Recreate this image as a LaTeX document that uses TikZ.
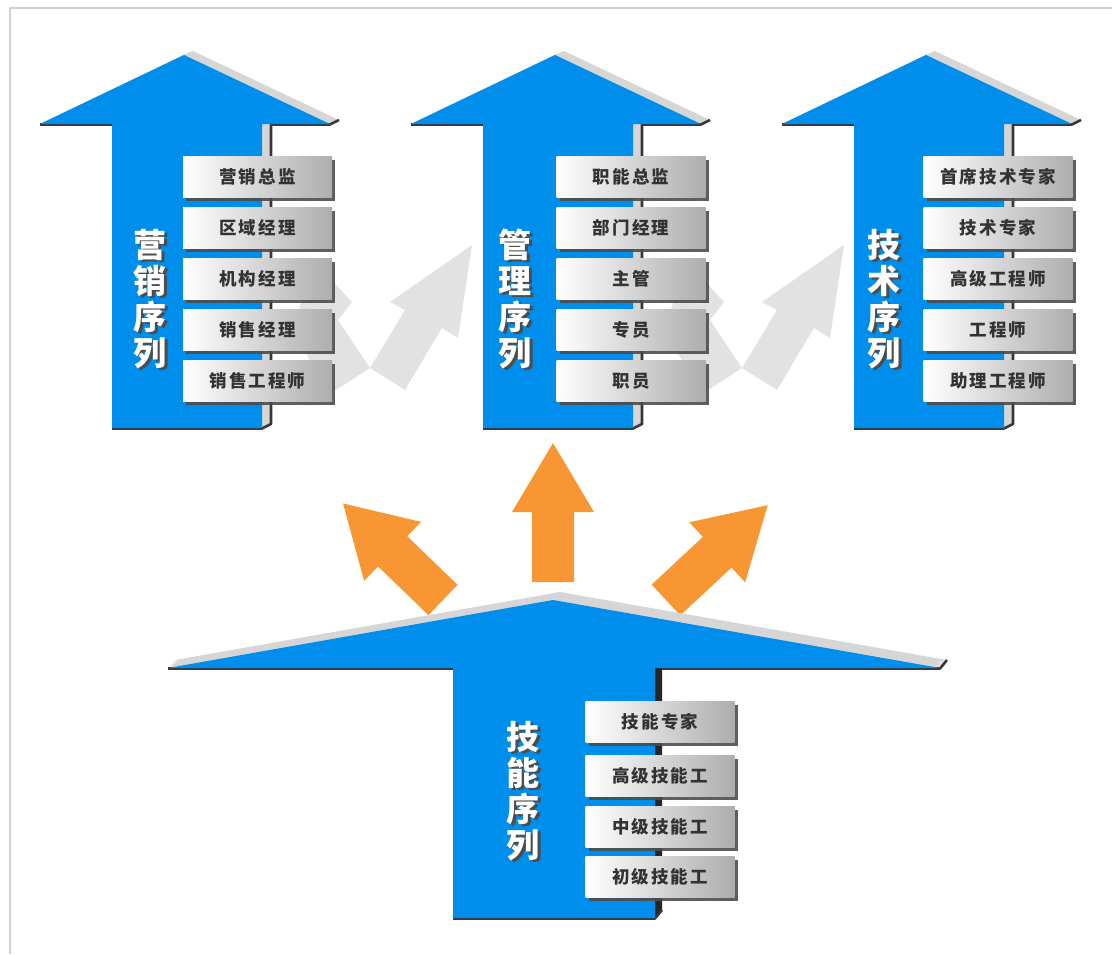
\documentclass[tikz,border=0pt]{standalone}
\usepackage{fontspec}
\newfontfamily\cjk{Noto Sans CJK SC}
\newfontfamily\cjkbox[LetterSpace=12]{Noto Sans CJK SC}
\usetikzlibrary{shadows}
\definecolor{arrowblue}{RGB}{0,142,236}
\definecolor{orangeA}{RGB}{247,150,50}
\definecolor{greyV}{RGB}{226,226,226}
\definecolor{extr}{RGB}{214,214,214}
\definecolor{edgedark}{RGB}{55,55,55}
\newcommand\shch[1]{\leavevmode\rlap{\kern2.5pt\raisebox{-2.5pt}{\textcolor{black!70}{#1}}}#1}
\tikzset{
  toparrow/.style={insert path={(184,55) -- (330,124) -- (262,124) -- (262,428) -- (112,428) -- (112,124) -- (40,124) -- cycle}},
  botarrow/.style={insert path={(553,600) -- (940,668) -- (655,668) -- (655,918) -- (453,918) -- (453,668) -- (168,668) -- cycle}},
  orangeshape/.style={insert path={(-21,0) -- (-21,-70) -- (-41,-70) -- (0,-139) -- (41,-70) -- (21,-70) -- (21,0) -- cycle}},
  lvlbox/.style={minimum width=149pt, minimum height=41pt, inner sep=0pt,
    left color=white, right color=black!32, draw=none,
    drop shadow={shadow xshift=3pt, shadow yshift=-3pt, fill=black!70, opacity=0.9},
    font=\cjkbox\bfseries\fontsize{17.5}{18}\selectfont, text=black!80},
  vlab/.style={align=center, inner sep=0pt, text=white,
    font=\cjk\bfseries\fontsize{33}{36}\selectfont},
  darkedge/.style={draw=edgedark, line width=2.6pt, line join=round}
}
\begin{document}
\begin{tikzpicture}[x=1pt,y=-1pt,line join=round]
\useasboundingbox (0,0) rectangle (1112,954);
\draw[black!18, line width=2pt] (10,954) -- (10,8) -- (1112,8);

% light grey bent arrows between the columns
\foreach \dx in {0,372} {
  \begin{scope}[xshift=\dx pt]
    \fill[greyV] (315,262) -- (352,302) -- (338,320) -- (370,368) -- (330,394) -- (292,330) -- cycle;
    \fill[greyV] (370,368) -- (405,310) -- (390,302) -- (472,245) -- (458,338) -- (442,328) -- (405,390) -- cycle;
  \end{scope}
}

% three top arrows
\foreach \dx in {0,371,742} {
  \begin{scope}[xshift=\dx pt]
    \foreach \t in {0,0.1,...,1.01} { \fill[extr, shift={(9*\t,-4*\t)}, toparrow]; }
    \draw[darkedge] (339,120) -- (330,124.5) -- (271,124.5) -- (271,424) -- (262,428.5) -- (112,428.5);
    \draw[darkedge] (40,124.5) -- (112,124.5);
    \fill[arrowblue, toparrow];
  \end{scope}
}

% orange arrows
\begin{scope}[shift={(553,582)}]
  \fill[orangeA, orangeshape];
\end{scope}
\begin{scope}[shift={(443,600)}, rotate=46]
  \fill[orangeA, orangeshape];
\end{scope}
\begin{scope}[shift={(666,600)}, rotate=-47]
  \fill[orangeA, orangeshape];
\end{scope}

% bottom arrow
\foreach \t in {0,0.1,...,1.01} { \fill[extr, shift={(7*\t,-8*\t)}, botarrow]; }
\fill[black!85] (655,668) -- (662,660) -- (662,910) -- (655,918) -- cycle;
\draw[darkedge] (947,660) -- (940,668.5) -- (662,668.5);
\draw[darkedge] (662,910) -- (655,918.5) -- (453,918.5);
\draw[darkedge] (168,668.5) -- (453,668.5);
\fill[arrowblue, botarrow];

% level boxes: marketing
\node[lvlbox] (m1) at (257.5,177) {营销总监};
\node[lvlbox] (m2) at (257.5,228) {区域经理};
\node[lvlbox] (m3) at (257.5,279) {机构经理};
\node[lvlbox] (m4) at (257.5,330) {销售经理};
\node[lvlbox] (m5) at (257.5,381) {销售工程师};
% management
\node[lvlbox] (g1) at (631,177) {职能总监};
\node[lvlbox] (g2) at (631,228) {部门经理};
\node[lvlbox] (g3) at (631,279) {主管};
\node[lvlbox] (g4) at (631,330) {专员};
\node[lvlbox] (g5) at (631,381) {职员};
% technology
\node[lvlbox] (t1) at (998,177) {首席技术专家};
\node[lvlbox] (t2) at (998,228) {技术专家};
\node[lvlbox] (t3) at (998,279) {高级工程师};
\node[lvlbox] (t4) at (998,330) {工程师};
\node[lvlbox] (t5) at (998,381) {助理工程师};
% skills
\node[lvlbox] (s1) at (660,722) {技能专家};
\node[lvlbox] (s2) at (660,776) {高级技能工};
\node[lvlbox] (s3) at (660,827) {中级技能工};
\node[lvlbox] (s4) at (660,877) {初级技能工};

% vertical titles
\node[vlab] (v1) at (150,300) {\shch{营}\\\shch{销}\\\shch{序}\\\shch{列}};
\node[vlab] (v2) at (515,300) {\shch{管}\\\shch{理}\\\shch{序}\\\shch{列}};
\node[vlab] (v3) at (884,300) {\shch{技}\\\shch{术}\\\shch{序}\\\shch{列}};
\node[vlab] (v4) at (523,792) {\shch{技}\\\shch{能}\\\shch{序}\\\shch{列}};
\end{tikzpicture}
\end{document}
